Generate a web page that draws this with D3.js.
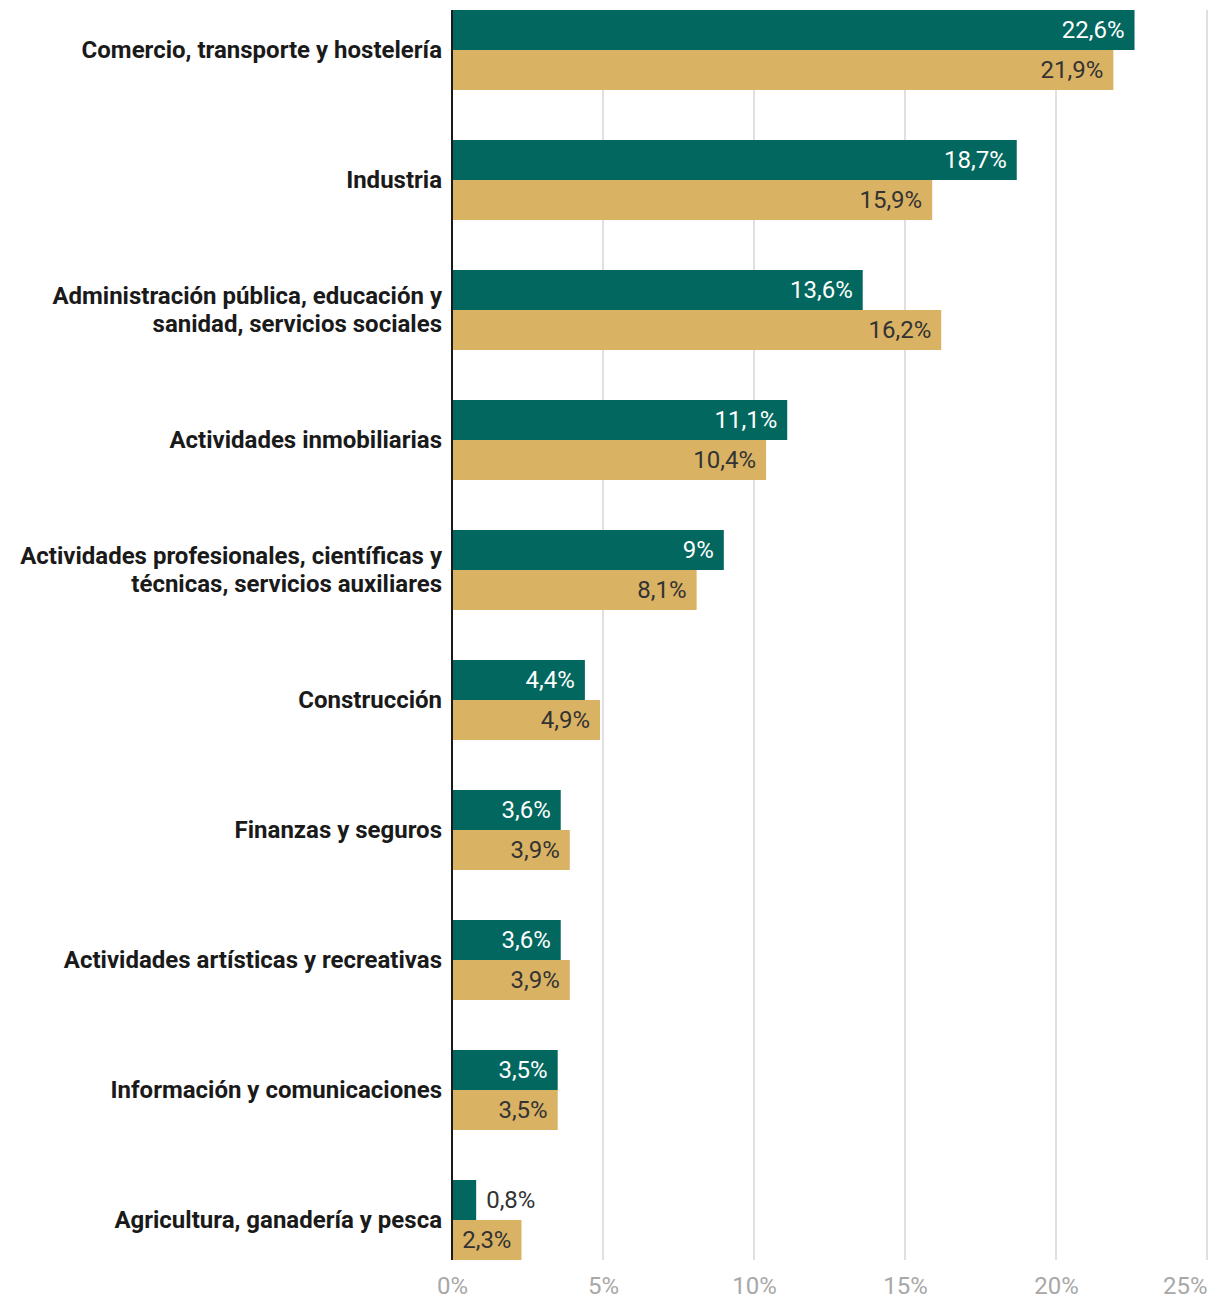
<!DOCTYPE html>
<html><head><meta charset="utf-8">
<script src="https://cdn.jsdelivr.net/npm/d3@7"></script>
<style>body{margin:0;background:#fff;font-family:Roboto,sans-serif;}</style>
</head><body><svg id="c" width="1220" height="1306"></svg>
<script>
const categories = [
  ["Comercio, transporte y hostelería"],
  ["Industria"],
  ["Administración pública, educación y","sanidad, servicios sociales"],
  ["Actividades inmobiliarias"],
  ["Actividades profesionales, científicas y","técnicas, servicios auxiliares"],
  ["Construcción"],
  ["Finanzas y seguros"],
  ["Actividades artísticas y recreativas"],
  ["Información y comunicaciones"],
  ["Agricultura, ganadería y pesca"]
];
const series1 = [22.6, 18.7, 13.6, 11.1, 9, 4.4, 3.6, 3.6, 3.5, 0.8];
const series2 = [21.9, 15.9, 16.2, 10.4, 8.1, 4.9, 3.9, 3.9, 3.5, 2.3];
const tickValues = [0, 5, 10, 15, 20, 25];
const colors = ["#02675e", "#d9b264"];

const svg = d3.select("#c");
const x = d3.scaleLinear().domain([0, 25]).range([452, 1207]);
const keys = categories.map((c, i) => i);
const y = d3.scaleBand().domain(keys).range([10, 1260]).paddingInner(50/130).paddingOuter(0);
const y2 = d3.scaleBand().domain([0, 1]).range([0, y.bandwidth()]);
const fmt = v => String(v).replace(".", ",") + "%";

// grid
svg.append("g").selectAll("line").data(tickValues.filter(t => t > 0)).join("line")
  .attr("x1", d => x(d)).attr("x2", d => x(d)).attr("y1", 10).attr("y2", 1260)
  .attr("stroke", "#e0e0e0").attr("stroke-width", 2);

// x axis labels
const xAxis = d3.axisBottom(x).tickValues(tickValues).tickFormat(d => d + "%").tickSize(0).tickPadding(0);
const gx = svg.append("g").attr("transform", "translate(0,1286)").call(xAxis);
gx.select(".domain").remove();
gx.selectAll("text").attr("font-family", "Roboto").attr("font-size", 24).attr("fill", "#a8a8a8")
  .attr("dy", "0.35em")
  .attr("text-anchor", (d, i) => i === tickValues.length - 1 ? "end" : "middle");

const data = keys.map(i => ({i, vals: [series1[i], series2[i]]}));
const groups = svg.append("g").selectAll("g").data(data).join("g")
  .attr("transform", d => `translate(0,${y(d.i)})`);

groups.selectAll("rect").data(d => d.vals.map((v, k) => ({v, k}))).join("rect")
  .attr("x", x(0)).attr("y", d => y2(d.k)).attr("height", y2.bandwidth())
  .attr("width", d => x(d.v) - x(0)).attr("fill", d => colors[d.k]);

groups.selectAll("text.val").data(d => d.vals.map((v, k) => ({v, k}))).join("text")
  .attr("class", "val")
  .each(function(d) {
    const inside = x(d.v) - x(0) > 50;
    d3.select(this)
      .attr("x", inside ? x(d.v) - 10 : x(d.v) + 10)
      .attr("text-anchor", inside ? "end" : "start")
      .attr("fill", inside && d.k === 0 ? "#ffffff" : "#333333");
  })
  .attr("y", d => y2(d.k) + y2.bandwidth() / 2)
  .attr("dy", "0.35em")
  .attr("font-family", "Roboto").attr("font-size", 24)
  .text(d => fmt(d.v));

// category labels
groups.append("text")
  .attr("x", 442).attr("text-anchor", "end")
  .attr("font-family", "Roboto").attr("font-weight", "bold").attr("font-size", 24).attr("fill", "#1a1a1a")
  .each(function(d) {
    const lines = categories[d.i];
    const t = d3.select(this);
    const lh = 28;
    lines.forEach((l, j) => {
      t.append("tspan").attr("x", 442)
        .attr("y", y.bandwidth() / 2 + (j - (lines.length - 1) / 2) * lh)
        .attr("dy", "0.35em").text(l);
    });
  });

// y axis line
svg.append("line").attr("x1", 452).attr("x2", 452).attr("y1", 10).attr("y2", 1260)
  .attr("stroke", "#1a1a1a").attr("stroke-width", 2);
</script></body></html>
